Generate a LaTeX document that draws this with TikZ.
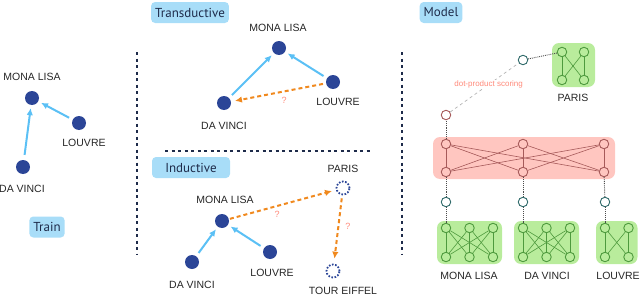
\documentclass[tikz,border=0pt]{standalone}
\usepackage{fontspec}
\setmainfont{Liberation Sans}
\newfontfamily\badgefont{PT Sans}
\usetikzlibrary{arrows.meta}
\definecolor{cent}{HTML}{2B4597}
\definecolor{cedge}{HTML}{5BC0F5}
\definecolor{cask}{HTML}{F0891E}
\definecolor{cqm}{HTML}{FF8A7A}
\definecolor{cbadge}{HTML}{A8DDF8}
\definecolor{cink}{HTML}{1E2B4A}
\definecolor{cgnn}{HTML}{B9EC9C}
\definecolor{cgnnd}{HTML}{4E9A3E}
\definecolor{cmlp}{HTML}{FFC6C0}
\definecolor{cmlpd}{HTML}{A65A5A}
\definecolor{cemb}{HTML}{2F6A6A}

\begin{document}
\begin{tikzpicture}[x=1pt, y=-1pt, >=Latex, font=\fontsize{10.5}{12}\selectfont,
    ent/.style={circle, fill=cent, minimum size=14pt, inner sep=0pt},
    newent/.style={circle, draw=cent, line width=1.8pt, dash pattern=on 1.6pt off 1.6pt,
      minimum size=13pt, inner sep=0pt},
    lbl/.style={text=black!85, inner sep=1pt},
    badge/.style={fill=cbadge, text=cink, rounded corners=4pt, inner xsep=4pt,
      minimum height=21pt, font=\badgefont\fontsize{13}{14}\selectfont},
    known/.style={->, cedge, line width=2pt, arrows={-Latex[length=7pt,width=6.5pt]}},
    ask/.style={cask, line width=2pt, dash pattern=on 4pt off 3pt,
      arrows={-Latex[length=7pt,width=6.5pt]}},
    qm/.style={text=cqm, font=\fontsize{9}{10}\selectfont, inner sep=1pt},
    sep/.style={cink, line width=2.4pt, dash pattern=on 3pt off 3.5pt},
    unit/.style={circle, line width=0.9pt, minimum size=9.5pt, inner sep=0pt},
    link/.style={black!70, densely dotted, line width=0.9pt}]
  \def\gs{23.5}    % spacing of the units inside a GNN box
  \useasboundingbox (0,0) rectangle (640,297);
  % ---------------- separators
  \draw[sep] (137,52) -- (137,255);
  \draw[sep] (402,52) -- (402,255);
  \draw[sep] (165,151) -- (372,151);
  % ---------------- train graph
  \node[ent] (trML) at (32,98) {};
  \node[ent] (trLV) at (79,123) {};
  \node[ent] (trDV) at (23,167) {};
  \node[lbl] (trMLt) at (32,77) {MONA LISA};
  \node[lbl] (trLVt) at (84,143) {LOUVRE};
  \node[lbl] (trDVt) at (22,189) {DA VINCI};
  \draw[known, shorten <=5pt, shorten >=3pt] (trDV) -- (trML);
  \draw[known, shorten <=4pt, shorten >=3pt] (trLV) -- (trML);
  \node[badge] (train) at (47,227) {Train};
  % ---------------- transductive: all entities seen in training
  \node[badge] (trans) at (190,12.5) {Transductive};
  \node[ent] (tdML) at (279,48) {};
  \node[ent] (tdLV) at (333,82) {};
  \node[ent] (tdDV) at (224,103) {};
  \node[lbl] (tdMLt) at (278,28) {MONA LISA};
  \node[lbl] (tdLVt) at (338,102) {LOUVRE};
  \node[lbl] (tdDVt) at (224,126) {DA VINCI};
  \draw[known, shorten <=4pt, shorten >=3pt] (tdDV) -- (tdML);
  \draw[known, shorten <=4pt, shorten >=3pt] (tdLV) -- (tdML);
  \draw[ask, shorten <=3pt, shorten >=4pt] (tdLV) -- (tdDV)
    node[qm, pos=0.44, below=4pt] (tdq) {?};
  % ---------------- inductive: new entities at test time
  \node[badge, minimum width=78pt] (induc) at (191,167.5) {Inductive};
  \node[ent] (idML) at (222,221) {};
  \node[ent] (idLV) at (270,252) {};
  \node[ent] (idDV) at (192,262) {};
  \node[newent] (idPA) at (343,188) {};
  \node[newent] (idTE) at (333,271) {};
  \node[lbl] (idMLt) at (225,200) {MONA LISA};
  \node[lbl] (idLVt) at (272,273) {LOUVRE};
  \node[lbl] (idDVt) at (192,285) {DA VINCI};
  \node[lbl] (idPAt) at (343,169) {PARIS};
  \node[lbl] (idTEt) at (343,290.5) {TOUR EIFFEL};
  \draw[known, shorten <=4pt, shorten >=3pt] (idDV) -- (idML);
  \draw[known, shorten <=4pt, shorten >=3pt] (idLV) -- (idML);
  \draw[ask, shorten <=1pt, shorten >=4pt] (idML) -- (idPA)
    node[qm, pos=0.45, below=3pt] (idq1) {?};
  \draw[ask, shorten <=3pt, shorten >=5pt] (idPA) -- (idTE)
    node[qm, pos=0.46, right=5pt] (idq2) {?};
  % ---------------- model
  \node[badge] (model) at (441,12.5) {Model};
  % shared MLP over the entity embeddings
  \fill[cmlp, rounded corners=7pt] (433,137) rectangle (615,179);
  \foreach \x [count=\i] in {446,523,604} {
    \node[unit, draw=cmlpd, fill=cmlp] (m-t\i) at (\x,144) {};
    \node[unit, draw=cmlpd, fill=cmlp] (m-b\i) at (\x,172) {};
  }
  \foreach \i in {1,2,3}
    \foreach \j in {1,2,3}
      \draw[cmlpd, line width=0.6pt] (m-t\i) -- (m-b\j);
  % one small GNN per entity
  \foreach \n/\xa/\k in {ML/446/3, DV/523/3, LV/605/2} {
    \pgfmathsetmacro{\xb}{\xa+(\k-1)*\gs}
    \fill[cgnn, rounded corners=7pt] (\xa-9,221) rectangle (\xb+9,264);
    \foreach \i in {1,...,\k} {
      \node[unit, draw=cgnnd, fill=cgnn] (g\n-t\i) at ({\xa+(\i-1)*\gs},228) {};
      \node[unit, draw=cgnnd, fill=cgnn] (g\n-b\i) at ({\xa+(\i-1)*\gs},257) {};
    }
    \foreach \i in {1,...,\k}
      \foreach \j in {1,...,\k}
        \draw[cgnnd, line width=0.6pt] (g\n-t\i) -- (g\n-b\j);
    \node[unit, draw=cemb, fill=white] (e\n) at (\xa,202) {};
  }
  \node[lbl] (gMLt) at (469,276) {MONA LISA};
  \node[lbl] (gDVt) at (547,276) {DA VINCI};
  \node[lbl] (gLVt) at (618,276) {LOUVRE};
  \foreach \n [count=\i] in {ML,DV,LV} {
    \draw[link] (m-b\i) -- (e\n);
    \draw[link] (e\n) -- (g\n-t1);
  }
  % GNN of the new entity
  \fill[cgnn, rounded corners=7pt] (552,43) rectangle (595,87);
  \node[unit, draw=cgnnd, fill=cgnn] (gPA-t1) at (562,52) {};
  \node[unit, draw=cgnnd, fill=cgnn] (gPA-t2) at (584,52) {};
  \node[unit, draw=cgnnd, fill=cgnn] (gPA-b1) at (562,80) {};
  \node[unit, draw=cgnnd, fill=cgnn] (gPA-b2) at (584,80) {};
  \foreach \i in {1,2}
    \foreach \j in {1,2}
      \draw[cgnnd, line width=0.6pt] (gPA-t\i) -- (gPA-b\j);
  \node[lbl] (gPAt) at (573,98) {PARIS};
  \node[unit, draw=cemb, fill=white] (qPA) at (523,60) {};
  \node[unit, draw=cmlpd, fill=white] (score) at (446,115) {};
  \draw[link] (qPA) -- (gPA-t1);
  \draw[link] (m-t1) -- (score);
  \draw[black!30, dashed, line width=0.7pt] (score) -- (qPA)
    node[pos=0.56, fill=white, inner sep=1pt, text=cqm, font=\fontsize{8}{9}\selectfont] (dot) {dot-product scoring};
\end{tikzpicture}
\end{document}
